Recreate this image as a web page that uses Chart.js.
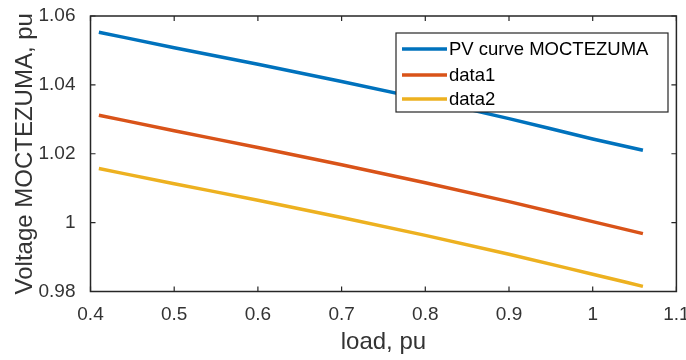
<!DOCTYPE html>
<html>
<head>
<meta charset="utf-8">
<script src="https://cdn.jsdelivr.net/npm/chart.js@4.4.1/dist/chart.umd.min.js"></script>
<style>
  html, body { margin: 0; padding: 0; background: #ffffff; }
  #c { display: block; }
</style>
</head>
<body>
<canvas id="c" width="686" height="360"></canvas>
<script>
// ---- data ----
const loads = [0.41, 0.5, 0.6, 0.7, 0.8, 0.9, 1.0, 1.06];
const pvCurve = [1.0553, 1.0508, 1.0460, 1.0410, 1.0358, 1.0302, 1.0243, 1.0210];
const data1   = [1.0312, 1.0267, 1.0218, 1.0168, 1.0116, 1.0061, 1.0003, 0.9968];
const data2   = [1.0157, 1.0113, 1.0065, 1.0015, 0.9963, 0.9908, 0.9850, 0.9815];
const seriesNames = ['PV curve MOCTEZUMA', 'data1', 'data2'];
const xTicks = [0.4, 0.5, 0.6, 0.7, 0.8, 0.9, 1.0, 1.1];
const yTicks = [0.98, 1.0, 1.02, 1.04, 1.06];
const xTitle = 'load, pu';
const yTitle = 'Voltage MOCTEZUMA, pu';

const colors = ['#0072BD', '#D95319', '#EDB120'];
const FONT = '"Liberation Sans", Arial, sans-serif';
const AXIS = '#262626';
const TXT = '#333333';

function pts(ys) { return loads.map((x, i) => ({ x: x, y: ys[i] })); }
function fmt(v) { return String(Math.round(v * 100) / 100); }

const matlabFrame = {
  id: 'matlabFrame',
  afterDatasetsDraw(chart) {
    const ctx = chart.ctx;
    const a = chart.chartArea;
    const xs = chart.scales.x, ys = chart.scales.y;
    ctx.save();
    ctx.strokeStyle = AXIS;
    ctx.lineWidth = 1.5;
    ctx.strokeRect(a.left, a.top, a.right - a.left, a.bottom - a.top);
    const L = 5;
    ctx.lineWidth = 1.2;
    ctx.beginPath();
    xTicks.forEach(v => {
      const p = xs.getPixelForValue(v);
      ctx.moveTo(p, a.bottom); ctx.lineTo(p, a.bottom - L);
      ctx.moveTo(p, a.top); ctx.lineTo(p, a.top + L);
    });
    yTicks.forEach(v => {
      const p = ys.getPixelForValue(v);
      ctx.moveTo(a.left, p); ctx.lineTo(a.left + L, p);
      ctx.moveTo(a.right, p); ctx.lineTo(a.right - L, p);
    });
    ctx.stroke();

    // legend (inside, top right)
    const bx = 396, by = 33, bw = 272, bh = 79;
    ctx.fillStyle = '#ffffff';
    ctx.fillRect(bx, by, bw, bh);
    ctx.strokeStyle = AXIS;
    ctx.lineWidth = 1.2;
    ctx.strokeRect(bx, by, bw, bh);
    const rows = [49, 75, 99];
    ctx.font = '18.5px ' + FONT;
    ctx.textBaseline = 'middle';
    ctx.textAlign = 'left';
    chart.data.datasets.forEach((ds, i) => {
      ctx.strokeStyle = ds.borderColor;
      ctx.lineWidth = 3.5;
      ctx.beginPath();
      ctx.moveTo(402, rows[i]); ctx.lineTo(447, rows[i]);
      ctx.stroke();
      ctx.fillStyle = '#000000';
      ctx.fillText(ds.label, 449, rows[i] + 1);
    });
    ctx.restore();
  }
};

new Chart(document.getElementById('c'), {
  type: 'line',
  data: {
    datasets: [
      { label: seriesNames[0], data: pts(pvCurve), borderColor: colors[0] },
      { label: seriesNames[1], data: pts(data1), borderColor: colors[1] },
      { label: seriesNames[2], data: pts(data2), borderColor: colors[2] }
    ].map(d => Object.assign(d, {
      borderWidth: 3.5, pointRadius: 0, fill: false, cubicInterpolationMode: 'monotone'
    }))
  },
  options: {
    responsive: false,
    devicePixelRatio: 1,
    animation: false,
    events: [],
    layout: { padding: { top: 16, right: 9.6, left: 0, bottom: 0 } },
    plugins: { legend: { display: false }, tooltip: { enabled: false } },
    scales: {
      x: {
        type: 'linear', min: 0.4, max: 1.1,
        afterBuildTicks(s) { s.ticks = xTicks.map(v => ({ value: v })); },
        afterFit(s) { s.height = 68.5; s.paddingLeft = 0; s.paddingRight = 0; },
        grid: { display: false, drawTicks: false, tickLength: 0 },
        border: { display: false },
        ticks: { padding: 12, maxRotation: 0, color: TXT, font: { family: FONT, size: 19 }, callback: v => fmt(v) },
        title: { display: true, text: xTitle, color: TXT, padding: { top: 0, bottom: 3 }, font: { family: FONT, size: 24 } }
      },
      y: {
        type: 'linear', min: 0.98, max: 1.06,
        afterBuildTicks(s) { s.ticks = yTicks.map(v => ({ value: v })); },
        afterFit(s) { s.width = 90.5; s.paddingTop = 0; s.paddingBottom = 0; },
        grid: { display: false, drawTicks: false, tickLength: 0 },
        border: { display: false },
        ticks: { padding: 15, color: TXT, font: { family: FONT, size: 19 }, callback: v => fmt(v) },
        title: { display: true, text: yTitle, color: TXT, padding: { top: 11, bottom: 0 }, font: { family: FONT, size: 24 } }
      }
    }
  },
  plugins: [matlabFrame]
});
</script>
</body>
</html>
